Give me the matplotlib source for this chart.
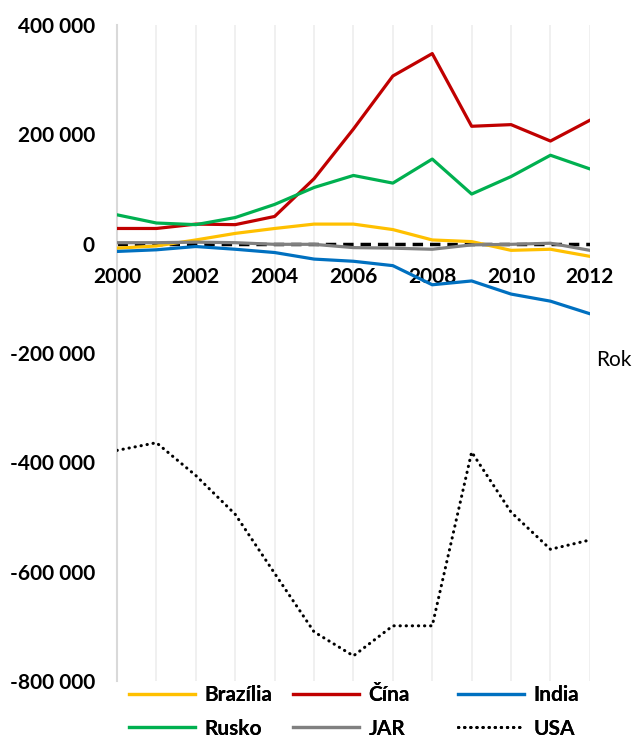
import matplotlib
matplotlib.use('Agg')
import matplotlib.pyplot as plt
from matplotlib.ticker import FuncFormatter

plt.rcParams['font.family'] = ['Lato', 'DejaVu Sans']

years = list(range(2000, 2013))
brazilia = [-8000, -4000, 7000, 19000, 28000, 36000, 36000, 26000, 7000, 4000, -12000, -10000, -23000]
cina = [28000, 28000, 36000, 35000, 50000, 119000, 210000, 307000, 348000, 215000, 218000, 188000, 226000]
india = [-14000, -11000, -5000, -10000, -16000, -28000, -32000, -40000, -75000, -68000, -92000, -105000, -128000]
rusko = [53000, 38000, 35000, 48000, 72000, 103000, 125000, 111000, 155000, 91000, 123000, 162000, 137000]
jar = [2000, 2000, 3000, 2000, -1000, -1000, -7000, -8000, -10000, -2000, -1000, 1000, -12000]
usa = [-378000, -364000, -424000, -495000, -603000, -710000, -754000, -699000, -699000, -381000, -491000, -559000, -542000]
nula = [0] * len(years)

y_ticks = [-800000, -600000, -400000, -200000, 0, 200000, 400000]
x_ticks = list(range(2000, 2013, 2))

fig = plt.figure(figsize=(6.37, 7.4), dpi=100)
ax = fig.add_axes([0.1837, 0.0797, 0.926 - 0.1837, 0.966 - 0.0797])

ax.plot(years, nula, color='black', linewidth=2.5, linestyle=(0, (3, 2)), zorder=2)
lb, = ax.plot(years, brazilia, color='#FFC000', linewidth=2.3, label='Brazília', zorder=3)
lc, = ax.plot(years, cina, color='#C00000', linewidth=2.3, label='Čína', zorder=3)
li, = ax.plot(years, india, color='#0070C0', linewidth=2.3, label='India', zorder=3)
lr, = ax.plot(years, rusko, color='#00B050', linewidth=2.3, label='Rusko', zorder=3)
lj, = ax.plot(years, jar, color='#808080', linewidth=2.3, label='JAR', zorder=3)
lu, = ax.plot(years, usa, color='black', linewidth=2.2, linestyle=(0, (0.1, 1.9)),
              dash_capstyle='round', label='USA', zorder=3)

ax.set_xlim(2000, 2012)
ax.set_ylim(-800000, 400000)
ax.set_yticks(y_ticks)
ax.set_xticks(years)
ax.set_xticklabels([str(y) if y in x_ticks else '' for y in years])
ax.yaxis.set_major_formatter(FuncFormatter(lambda v, p: f'{int(v):,}'.replace(',', ' ')))

ax.spines['top'].set_visible(False)
ax.spines['right'].set_visible(False)
ax.spines['bottom'].set_position(('data', 0))
ax.spines['bottom'].set_visible(False)
ax.spines['left'].set_color('#d9d9d9')
ax.spines['left'].set_linewidth(1.5)

ax.grid(axis='x', color='#eeeeee', linewidth=1.2, zorder=0)
ax.tick_params(axis='both', length=0, labelsize=15)
ax.tick_params(axis='x', pad=17)
ax.tick_params(axis='y', pad=16)
for t in ax.get_xticklabels() + ax.get_yticklabels():
    t.set_fontweight('bold')

fig.text(614 / 637, 1 - 360 / 740, 'Rok', fontsize=15, ha='center', va='center')

# three legend columns like Excel, equal widths
cols = [([lb, lr], ['Brazília', 'Rusko'], 128),
        ([lc, lj], ['Čína', 'JAR'], 292),
        ([li, lu], ['India', 'USA'], 457)]
for handles, labels, xpix in cols:
    leg = fig.legend(handles, labels, loc='center left',
                     bbox_to_anchor=(xpix / 637 - 0.012, 1 - 712 / 740), frameon=False,
                     handlelength=3.2, handletextpad=0.45, labelspacing=0.65,
                     borderaxespad=0, prop={'weight': 'bold', 'size': 15})
    fig.add_artist(leg)

plt.savefig('out.png', dpi=100)
